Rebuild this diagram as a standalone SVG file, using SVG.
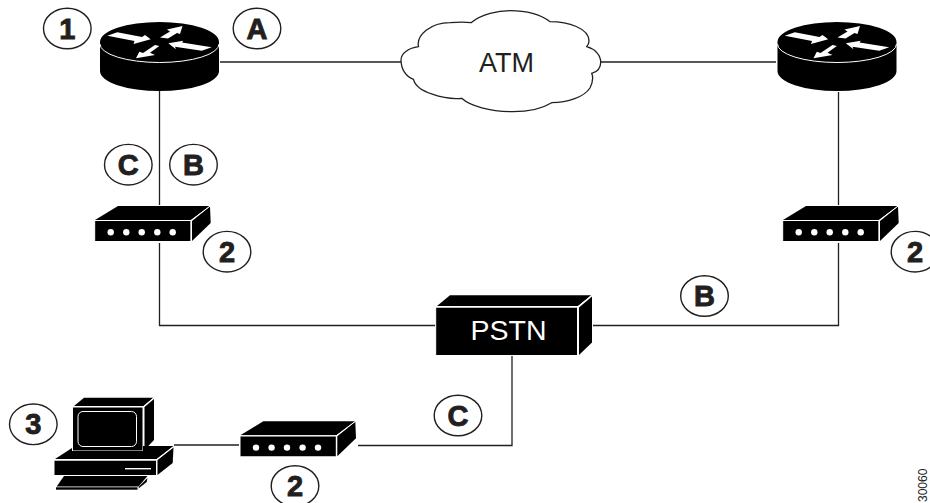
<svg xmlns="http://www.w3.org/2000/svg" width="930" height="503" viewBox="0 0 930 503">
<style>
.lab{font-family:"Liberation Sans",Arial,sans-serif;font-weight:700;font-size:29px;fill:#231f20;stroke:#231f20;stroke-width:.9;text-anchor:middle}
.ring{fill:#fff;stroke:#231f20;stroke-width:1.4}
.wire{fill:none;stroke:#231f20;stroke-width:1.3}
.blk{fill:#000}
.w{fill:#fff}
.edge{fill:none;stroke:#fff;stroke-width:1}
.name{font-family:"Liberation Sans",Arial,sans-serif;font-size:27px;text-anchor:middle}
</style>
<defs>
<g id="router">
<path class="blk" d="M100 42A59.500 20 0 0 1 219 42V71A59.500 20 0 0 1 100 71Z"/>
<path class="edge" d="M100 44A59.500 18.500 0 0 0 219 44"/>
<path class="w" d="M107.300 35.700L117.300 32.300L142 37L145 35L150.700 39.300L133.500 44L134.500 41Z"/>
<path class="w" d="M160 37.500L170 31.500L167 29.500L182.500 26L180 34L177 33L168 38.500Z"/>
<path class="w" d="M211.700 47.300L201.700 50.700L175 46.700L176 49.300L168.300 43.300L183.300 40.700L182 42.500Z"/>
<path class="w" d="M159.300 46L150 52.700L155 55L136 58.300L139.300 51.700L143 53L155 45Z"/>
</g>
<g id="modem">
<path class="blk" d="M95 220L118 206H210L191 220Z"/>
<path class="blk" d="M192 221L210 206.500L210.700 223L192 241Z"/>
<rect class="blk" x="94.700" y="221" width="96" height="20.500"/>
<path class="edge" d="M94.700 220.500H191L210 206M191 220.500V241.500H94.700V220.500"/>
<g class="w"><circle cx="110.700" cy="232.300" r="3.200"/><circle cx="126.300" cy="232.300" r="3.200"/><circle cx="141.700" cy="232.300" r="3.200"/><circle cx="157.300" cy="232.300" r="3.200"/><circle cx="172.700" cy="232.300" r="3.200"/></g>
</g>
</defs>
<g id="connectors">
<path class="wire" d="M220 62H401"/>
<path class="wire" d="M600 62H776"/>
<path class="wire" d="M159.500 91V205"/>
<path class="wire" d="M159.500 243V325.500H435"/>
<path class="wire" d="M593 325.500H838.500V243"/>
<path class="wire" d="M838.500 205V92"/>
<path class="wire" d="M512 356V445.500H358"/>
<path class="wire" d="M174 445H239"/>
</g>
<g id="router-left"><use href="#router"/></g>
<g id="router-right"><use href="#router" x="677.500"/></g>
<g id="atm-cloud">
<path d="M471 22.700C482 14 498 10.700 510 10.700C526 10.700 541 15 550 21.700C568 21.700 589 28 589 41C589 43 588 45 586.700 46.700C595 49 600.700 55 600.700 62.300C600.700 68 597 72 591.700 73.300C594 79 592 84 590 88C584 97 568 102.700 551.700 102.700C543 108 528 111.700 513 111.700C490 111.700 470 106 461.700 98.300C445 100 416 92 413.500 79.300C406 77 401 69 401 60C401 53 409 48 418.500 46.700C416 35 431 22.700 450 22.700C458 22 466 22 471 22.700Z" fill="#fff" stroke="#231f20" stroke-width="1.300"/>
<text class="name" x="506.500" y="71.500" fill="#231f20">ATM</text>
</g>
<g id="pstn">
<path class="blk" d="M437 306L450 295.300H591.300L578 306Z"/>
<path class="blk" d="M579 307.500L592 296.500V342.500L579 355Z"/>
<rect class="blk" x="435.700" y="307.500" width="141.500" height="47.500"/>
<path class="edge" d="M435.700 307H577.500L591.500 295.500M577.500 307V355.500H435.700V307"/>
<text class="name" x="508.500" y="340" fill="#fff" style="font-size:28.500px">PSTN</text>
</g>
<g id="modem-left"><use href="#modem"/></g>
<g id="modem-right"><use href="#modem" x="688"/></g>
<g id="modem-bottom"><use href="#modem" x="145.300" y="215.300"/></g>
<g id="computer">
<path class="blk" d="M74 406L84 397.700H153.500L143.500 406Z"/>
<path class="blk" d="M144.500 407L154 399V440L144.500 450Z"/>
<rect class="blk" x="72.500" y="407" width="70.500" height="44"/>
<path class="edge" d="M72.500 407H143V451H72.500V407M143 407L153.500 398"/>
<rect x="78" y="411.500" width="58.500" height="35" rx="5" fill="#000" stroke="#fff" stroke-width="1"/>
<path class="blk" d="M55 459L72 448V451H143V446L173.500 446L156.500 459Z"/>
<path class="blk" d="M157.500 460L173.500 447.500L172.700 463L157.500 475Z"/>
<rect class="blk" x="54" y="460.500" width="102" height="14.500"/>
<path class="edge" d="M54 460H156.500V475.500H54V460M156.500 460L173 447"/>
<rect x="125" y="468" width="26" height="1.400" fill="#fff"/>
<path class="blk" d="M56.700 486.500L64 476H147.500L138.500 486.500Z"/>
<path class="blk" d="M139 486.500L147.500 478L146.700 482L138.500 488.500Z"/>
<rect class="blk" x="56" y="487.300" width="81.500" height="2.400"/>
</g>
<g id="label-1"><ellipse class="ring" cx="67.300" cy="28.500" rx="23.800" ry="20.300"/><text class="lab" x="67.300" y="38.500">1</text></g>
<g id="label-a"><ellipse class="ring" cx="257" cy="28.500" rx="23.800" ry="20.300"/><text class="lab" x="257" y="38.500">A</text></g>
<g id="label-c1"><ellipse class="ring" cx="128.300" cy="164.700" rx="23.800" ry="20.300"/><text class="lab" x="128.300" y="174.700">C</text></g>
<g id="label-b1"><ellipse class="ring" cx="193.500" cy="164.700" rx="23.800" ry="20.300"/><text class="lab" x="193.500" y="174.700">B</text></g>
<g id="label-2a"><ellipse class="ring" cx="227" cy="251.700" rx="23.800" ry="20.300"/><text class="lab" x="227" y="261.700">2</text></g>
<g id="label-2b"><ellipse class="ring" cx="915" cy="251.700" rx="23.800" ry="20.300"/><text class="lab" x="915" y="261.700">2</text></g>
<g id="label-b2"><ellipse class="ring" cx="704.500" cy="296" rx="23.800" ry="20.300"/><text class="lab" x="704.500" y="306">B</text></g>
<g id="label-c2"><ellipse class="ring" cx="458" cy="415.500" rx="23.800" ry="20.300"/><text class="lab" x="458" y="425.500">C</text></g>
<g id="label-3"><ellipse class="ring" cx="33.300" cy="424.300" rx="23.800" ry="20.300"/><text class="lab" x="33.300" y="434.300">3</text></g>
<g id="label-2c"><ellipse class="ring" cx="295" cy="486" rx="23.800" ry="20.300"/><text class="lab" x="295" y="496">2</text></g>
<text transform="translate(926.500 502) rotate(-90)" font-family="Liberation Sans, Arial, sans-serif" font-size="12" fill="#231f20">30060</text>
</svg>
